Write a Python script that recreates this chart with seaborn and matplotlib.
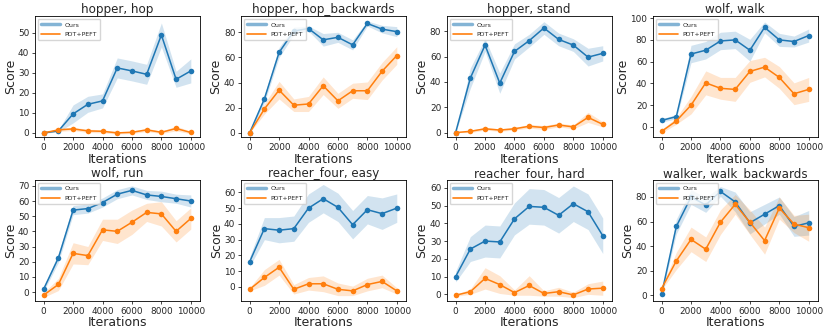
import numpy as np
import pandas as pd
import seaborn as sns
import matplotlib
matplotlib.use("Agg")
import matplotlib.pyplot as plt
from matplotlib.lines import Line2D

# Data
iterations = [0, 1000, 2000, 3000, 4000, 5000, 6000, 7000, 8000, 9000, 10000]
titles = [
    "hopper, hop", "hopper, hop_backwards", "hopper, stand", "wolf, walk",
    "wolf, run", "reacher_four, easy", "reacher_four, hard", "walker, walk_backwards",
]

ours_mean = [
    [0, 1, 9.5, 14.3, 16, 32.5, 31, 29.3, 49, 26.8, 31],
    [0, 27, 64, 81, 83, 74, 76, 70, 87, 82.5, 80.5],
    [0, 43, 69, 39, 64, 72.5, 82.5, 73.5, 69, 59.5, 62.5],
    [6, 9.5, 67, 70.5, 79, 80, 70.5, 91.5, 80, 78.5, 84],
    [2, 22.5, 54, 55, 59, 64.5, 67, 64, 63, 61.5, 60],
    [16, 37, 36, 37, 50, 56, 50.5, 39.5, 49, 46.5, 50],
    [10, 25.5, 30, 29.5, 42.5, 49.5, 49, 44.5, 51, 46.5, 33],
    [1, 56, 80, 73.5, 84.5, 76, 59, 66, 73, 56, 59],
]
ours_err = [
    [0, 0.5, 4.5, 4, 3.5, 5, 5, 5, 6, 4, 6],
    [0, 3, 4, 3, 2, 5, 4, 4, 2, 3, 4],
    [0, 8, 5, 8, 6, 5, 5, 5, 5, 7, 6],
    [1.5, 2, 8, 8, 8, 8, 10, 5, 6, 5, 6],
    [1.5, 3, 3, 3, 3, 3, 3, 3, 3.5, 3, 4],
    [3, 7, 8, 8, 9, 9, 9, 9, 9, 10, 9],
    [3, 7, 9, 9, 9, 10, 10, 10, 10, 10, 10],
    [1, 6, 6, 6, 4, 8, 9, 8, 7, 8, 10],
]
pdt_mean = [
    [0, 1.5, 2, 1, 0.8, 0, 0.3, 1.5, 0.3, 2.2, 0.2],
    [0, 19, 34, 22, 23, 37.5, 25.5, 33.5, 33.5, 49, 61.5],
    [0, 1, 3, 2, 3, 5, 4, 6, 4.5, 12, 6.5],
    [-4, 5.5, 20, 40.5, 35.5, 34.5, 51, 55, 45.5, 30.5, 34.5],
    [-2, 5, 25.5, 24, 41, 40, 46, 52.5, 51.5, 40, 48.5],
    [-1.5, 6, 12.5, -1.5, 2, 2, -1.5, -2.5, 1.5, 3.5, -2.5],
    [-0.5, 1.5, 9, 5.5, 1, 5, 0.5, 1.5, -0.3, 3, 3.5],
    [5.5, 28, 45.5, 37.5, 59.5, 74, 59.5, 44.5, 71, 58, 55],
]
pdt_err = [
    [0.3, 0.8, 0.8, 0.8, 0.8, 0.6, 0.6, 0.8, 0.6, 1.2, 0.6],
    [0, 4, 7, 5, 6, 7, 6, 6, 7, 7, 7],
    [0, 1, 1, 1, 1, 1.5, 1.5, 1.5, 1.5, 4, 2],
    [1.5, 3, 8, 11, 10, 11, 10, 9, 10, 10, 11],
    [1.5, 4, 7, 6, 7, 8, 8, 6, 8, 7, 7],
    [1, 5, 5, 3, 4, 5, 4, 3, 4, 4, 2],
    [0.5, 1.5, 6, 5, 1.5, 5.5, 1.5, 2.5, 1.5, 3, 4],
    [1, 7, 10, 10, 10, 8, 10, 11, 9, 7, 11],
]

# axis ranges and y tick steps per panel
y_limits = [(-2.2, 58.5), (-3.5, 93), (-3.7, 92), (-9.5, 102),
            (-6, 74), (-9, 68), (-3.8, 64.5), (-4.7, 94)]
y_steps = [10, 20, 20, 20, 10, 10, 10, 20]

blue, orange = sns.color_palette("tab10")[:2]
sns.set_style("ticks")

fig, axes = plt.subplots(2, 4, figsize=(8.3, 3.32), dpi=100)
fig.subplots_adjust(left=0.042, right=0.985, top=0.952, bottom=0.093,
                    wspace=0.25, hspace=0.35)

for i, ax in enumerate(axes.flat):
    x = np.array(iterations)
    for mean, err, color in [(ours_mean[i], ours_err[i], blue),
                             (pdt_mean[i], pdt_err[i], orange)]:
        mean = np.array(mean)
        err = np.array(err)
        df = pd.DataFrame({"Iterations": x, "Score": mean})
        sns.lineplot(data=df, x="Iterations", y="Score", ax=ax, color=color,
                     marker="o", markersize=4, markeredgewidth=0, lw=1.1,
                     errorbar=None)
        ax.fill_between(x, mean - err, mean + err, color=color, alpha=0.2, lw=0)

    ax.set_title(titles[i], fontsize=8.6, pad=2)
    ax.set_xlabel("Iterations", fontsize=9, labelpad=0.5)
    ax.set_ylabel("Score", fontsize=9, labelpad=1)
    ax.set_xticks([0, 2000, 4000, 6000, 8000, 10000])
    ax.set_xlim(-600, 10600)
    ax.set_ylim(*y_limits[i])
    ax.set_yticks(np.arange(0, y_limits[i][1], y_steps[i]))
    ax.tick_params(labelsize=6.4, length=2.5, pad=1.5, width=0.6)
    for s in ax.spines.values():
        s.set_color("black")
        s.set_linewidth(0.6)

    handles = [Line2D([], [], color=blue, lw=2.5, alpha=0.55),
               Line2D([], [], color=orange, lw=1.2)]
    ax.legend(handles, ["Ours", "PDT+PEFT"], loc="upper left", fontsize=4.5,
              handlelength=3, frameon=True, borderpad=0.5, labelspacing=0.7)

fig.savefig("out.png", dpi=100)
